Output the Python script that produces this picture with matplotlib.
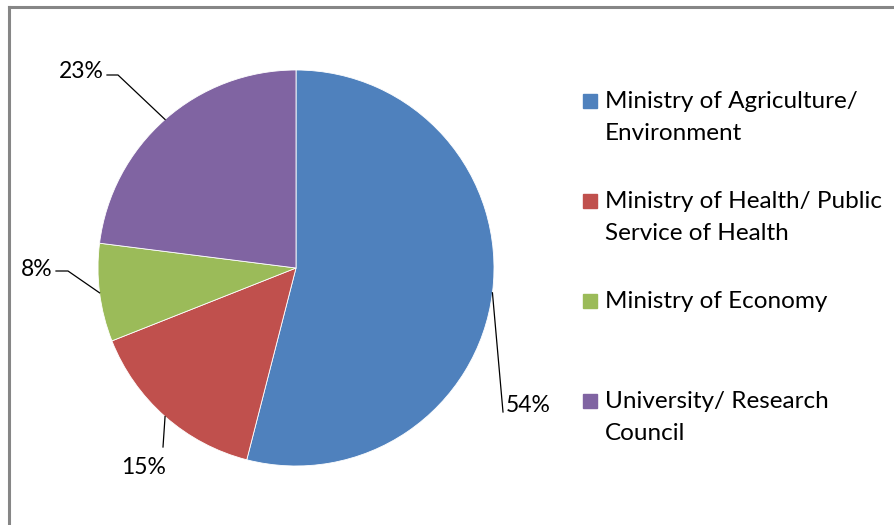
import numpy as np
import matplotlib.pyplot as plt
from matplotlib.patches import Rectangle
from matplotlib.lines import Line2D

plt.rcParams['font.family'] = ['Lato', 'DejaVu Sans']

labels = ['Ministry of Agriculture/\nEnvironment',
          'Ministry of Health/ Public\nService of Health',
          'Ministry of Economy',
          'University/ Research\nCouncil']
shares = [54, 15, 8, 23]
colors = ['#4F81BD', '#C0504D', '#9BBB59', '#8064A2']

# where each percentage label sits (pixels from top-left) and its leader elbow
label_pos = [(506, 406), (166, 467), (53, 270), (104, 72)]
label_ha = ['left', 'right', 'right', 'right']
elbows = [(503, 412), (163, 447), (68, 271), (118, 75)]

W, H = 894, 525
fig = plt.figure(figsize=(W / 100, H / 100), dpi=100)

# pie centre (296, 268), radius 198 px
cx, cy, r = 296, 268, 198
ax = fig.add_axes([(cx - r) / W, (H - cy - r) / H, 2 * r / W, 2 * r / H])
wedges, _ = ax.pie(shares, colors=colors, startangle=90, counterclock=False,
                   radius=1, wedgeprops=dict(linewidth=0.6, edgecolor='white'))
ax.set_xlim(-1, 1)
ax.set_ylim(-1, 1)
ax.set_aspect('equal')
ax.axis('off')


def to_data(px, py):
    return (px - cx) / r, (cy - py) / r


for w, v, pos, ha, elb in zip(wedges, shares, label_pos, label_ha, elbows):
    mid = np.deg2rad((w.theta1 + w.theta2) / 2)
    ex, ey = np.cos(mid), np.sin(mid)
    bx, by = to_data(*elb)
    pts_x = [ex, bx]
    pts_y = [ey, by]
    if ha == 'right' and abs(elb[1] - pos[1]) < 10:
        # short horizontal stub next to the text
        sx, sy = to_data(pos[0] + 3, elb[1])
        pts_x.append(sx)
        pts_y.append(sy)
    ax.add_line(Line2D(pts_x, pts_y, color='black', lw=0.9, clip_on=False))
    tx, ty = to_data(*pos)
    ax.text(tx, ty, f'{v}%', ha=ha, va='center', fontsize=16.5, clip_on=False)

# legend entries, one every 100 px
for i, (lab, c) in enumerate(zip(labels, colors)):
    top = 90 + 100 * i
    fig.patches.append(Rectangle((583 / W, 1 - (top + 18) / H), 14 / W, 14 / H,
                                 transform=fig.transFigure, color=c))
    fig.text(605 / W, 1 - (top + 1) / H, lab, ha='left', va='top', fontsize=17.5,
             linespacing=1.62)

# chart area frame (top and left edges)
fig.add_artist(Line2D([9 / W, 893 / W], [1 - 7 / H, 1 - 7 / H], color='#868686', lw=2.2,
                      transform=fig.transFigure))
fig.add_artist(Line2D([9 / W, 9 / W], [0, 1 - 7 / H], color='#868686', lw=2.2,
                      transform=fig.transFigure))

fig.savefig('out.png', dpi=100)
